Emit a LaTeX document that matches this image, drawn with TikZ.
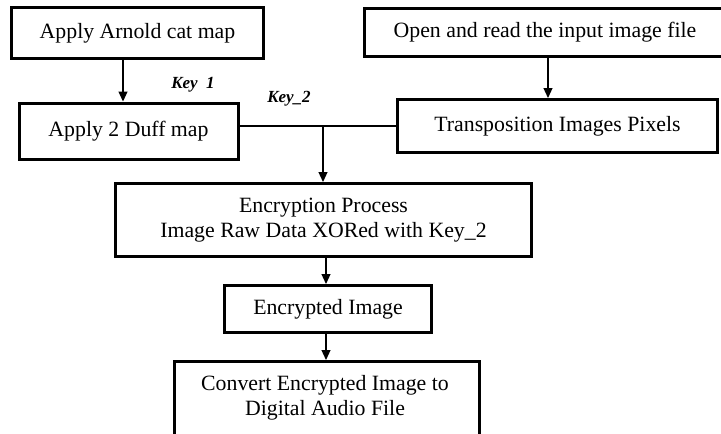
\documentclass[tikz,border=0pt]{standalone}
\usepackage{fontspec}
\setmainfont{Liberation Serif}
\usetikzlibrary{arrows.meta}
\begin{document}
\begin{tikzpicture}[x=1pt,y=-1pt,
  box/.style={draw=black,line width=3pt,rectangle,inner sep=0pt,
    font=\fontsize{21.8}{25}\selectfont,align=center},
  keylabel/.style={font=\fontsize{17}{20}\selectfont\bfseries\itshape,inner sep=0pt,anchor=base},
  conn/.style={line width=1.2pt},
  arr/.style={conn,-{Triangle[length=10pt,width=9pt]}}]
\useasboundingbox (0,0) rectangle (721,434);
\clip (0,0) rectangle (721,434);
\node[box,minimum width=252pt,minimum height=51pt] (arnold) at (137.5,33) {Apply Arnold cat map};
\node[box,minimum width=219pt,minimum height=56pt] (duff) at (128.5,131) {Apply 2 Duff map};
\node[box,minimum width=362pt,minimum height=48pt] (open) at (545,32.5) {Open and read the input image file};
\node[box,minimum width=320pt,minimum height=53pt] (trans) at (557.5,126) {Transposition Images Pixels};
\node[box,minimum width=416pt,minimum height=73pt] (enc) at (323.5,220) {Encryption Process\\Image Raw Data XORed with Key\_2};
\node[box,minimum width=207pt,minimum height=47pt] (encimg) at (328,309) {Encrypted Image};
\node[box,minimum width=305pt,minimum height=90pt,anchor=north] (conv) at (326.5,360) {};
\node[font=\fontsize{21.8}{24.5}\selectfont,align=center,anchor=base,inner sep=0pt] (convtxt) at (325,415) {Convert Encrypted Image to\\Digital Audio File};
\node[keylabel] (key1) at (193,88) {Key\ \ 1};
\node[keylabel] (key2) at (289,102) {Key\_2};
\coordinate (j) at (323,126);
\draw[arr] (arnold.south -| 123,0) -- (duff.north -| 123,0);
\draw[arr] (open.south -| 548,0) -- (trans.north -| 548,0);
\draw[conn] (duff.east |- j) -- (trans.west |- j);
\draw[arr] (j) -- (j |- enc.north);
\draw[arr] (enc.south -| 326,0) -- (encimg.north -| 326,0);
\draw[arr] (encimg.south -| 326,0) -- (conv.north -| 326,0);
\end{tikzpicture}
\end{document}
